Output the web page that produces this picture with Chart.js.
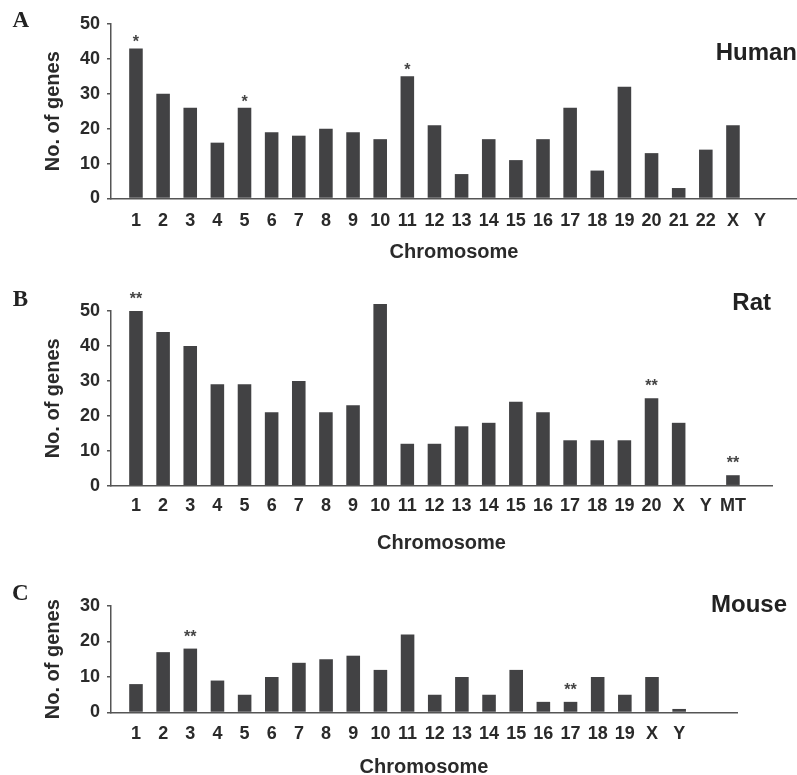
<!DOCTYPE html>
<html>
<head>
<meta charset="utf-8">
<script src="https://cdn.jsdelivr.net/npm/chart.js@4/dist/chart.umd.min.js"></script>
<style>
html,body{margin:0;padding:0;background:#fff;overflow:hidden;width:797px;height:775px;position:relative}
canvas{position:absolute;left:0}
.lbl{position:absolute;font-family:"Liberation Serif","Times New Roman",serif;font-weight:bold;font-size:23px;color:#222;line-height:1;white-space:nowrap}
.sp{position:absolute;font-family:"Liberation Sans",Arial,sans-serif;font-weight:bold;font-size:24px;color:#222;line-height:1;white-space:nowrap}
</style>
</head>
<body>
<canvas id="cA" width="797" height="264" style="top:0px"></canvas>
<canvas id="cB" width="797" height="285" style="top:270px"></canvas>
<canvas id="cC" width="797" height="209" style="top:570px"></canvas>
<div class="lbl" style="left:12.5px;top:7.6px">A</div>
<div class="lbl" style="left:12.7px;top:286.6px">B</div>
<div class="lbl" style="left:12px;top:581px">C</div>
<div class="sp" style="right:0px;top:40.2px">Human</div>
<div class="sp" style="right:26px;top:290.2px">Rat</div>
<div class="sp" style="right:10px;top:592px">Mouse</div>
<script>
// ---- Data ----
const humanCats = ['1','2','3','4','5','6','7','8','9','10','11','12','13','14','15','16','17','18','19','20','21','22','X','Y'];
const humanVals = [43,30,26,16,26,19,18,20,19,17,35,21,7,17,11,17,26,8,32,13,3,14,21,0];
const humanStars = ['*','','','','*','','','','','','*','','','','','','','','','','','','',''];

const ratCats = ['1','2','3','4','5','6','7','8','9','10','11','12','13','14','15','16','17','18','19','20','X','Y','MT'];
const ratVals = [50,44,40,29,29,21,30,21,23,52,12,12,17,18,24,21,13,13,13,25,18,0,3];
const ratStars = ['**','','','','','','','','','','','','','','','','','','','**','','','**'];

const mouseCats = ['1','2','3','4','5','6','7','8','9','10','11','12','13','14','15','16','17','18','19','X','Y'];
const mouseVals = [8,17,18,9,5,10,14,15,16,12,22,5,10,5,12,3,3,10,5,10,1];
const mouseStars = ['','','**','','','','','','','','','','','','','','**','','','',''];

const yTicksHuman = [0,10,20,30,40,50];
const yTicksRat = [0,10,20,30,40,50];
const yTicksMouse = [0,10,20,30];

// ---- Drawing ----
const FAM = '"Liberation Sans", Arial, Helvetica, sans-serif';
const TXT = '#2a2a2a';
const AX = '#555555';

const starPlugin = {
  id: 'stars',
  afterDatasetsDraw(chart, args, o) {
    const meta = chart.getDatasetMeta(0);
    const ctx = chart.ctx;
    ctx.save();
    ctx.font = 'bold 16px ' + FAM;
    ctx.fillStyle = '#444';
    ctx.textAlign = 'center';
    ctx.textBaseline = 'alphabetic';
    (o.marks || []).forEach((m, i) => {
      if (!m) return;
      const el = meta.data[i];
      ctx.fillText(m, el.x, el.y - o.gap);
    });
    ctx.restore();
  }
};

function makePanel(id, cats, vals, stars, yTicks, cfg) {
  new Chart(document.getElementById(id), {
    type: 'bar',
    data: {
      datasets: [{
        data: cats.map((c, i) => ({x: i + 1, y: vals[i]})),
        backgroundColor: '#424244',
        borderWidth: 0,
        categoryPercentage: 1,
        barPercentage: 0.5,
        clip: false
      }]
    },
    plugins: [starPlugin],
    options: {
      responsive: false,
      animation: false,
      devicePixelRatio: 1,
      layout: {padding: {top: cfg.padTop, right: cfg.padRight, bottom: 0, left: 0}},
      plugins: {
        legend: {display: false},
        tooltip: {enabled: false},
        stars: {marks: stars, gap: cfg.starGap}
      },
      scales: {
        x: {
          type: 'linear',
          offset: false,
          min: 0.08,
          max: cfg.xMax,
          afterBuildTicks: s => { s.ticks = cats.map((c, i) => ({value: i + 1})); },
          ticks: {
            autoSkip: false, maxRotation: 0, minRotation: 0,
            padding: cfg.xPad, color: TXT,
            font: {family: FAM, weight: 'bold', size: 18},
            callback: v => cats[Math.round(v) - 1]
          },
          grid: {display: false, drawTicks: false},
          border: {display: true, color: AX, width: 1.5},
          title: {
            display: true, text: 'Chromosome', color: TXT,
            font: {family: FAM, weight: 'bold', size: 20},
            padding: {top: 0, bottom: 0}
          },
          afterFit: s => { s.height = cfg.xH; }
        },
        y: {
          min: 0,
          max: yTicks[yTicks.length - 1],
          afterBuildTicks: s => { s.ticks = yTicks.map(v => ({value: v})); },
          ticks: {
            padding: 7, color: TXT,
            font: {family: FAM, weight: 'bold', size: 18}
          },
          grid: {display: true, drawOnChartArea: false, drawTicks: true, tickLength: 4, color: AX, lineWidth: 1.5},
          border: {display: true, color: AX, width: 1.5},
          title: {
            display: true, text: 'No. of genes', color: TXT,
            font: {family: FAM, weight: 'bold', size: 20},
            padding: {top: 41, bottom: 0}
          },
          afterFit: s => { s.width = 111; }
        }
      }
    }
  });
}

makePanel('cA', humanCats, humanVals, humanStars, yTicksHuman,
  {padTop: 24, padRight: 0, xMax: 25.36, xH: 65.5, xPad: 12, starGap: 1});
makePanel('cB', ratCats, ratVals, ratStars, yTicksRat,
  {padTop: 41, padRight: 25, xMax: 24.44, xH: 69.3, xPad: 10, starGap: 7});
makePanel('cC', mouseCats, mouseVals, mouseStars, yTicksMouse,
  {padTop: 36, padRight: 60, xMax: 23.13, xH: 66.5, xPad: 11, starGap: 7});
</script>
</body>
</html>
